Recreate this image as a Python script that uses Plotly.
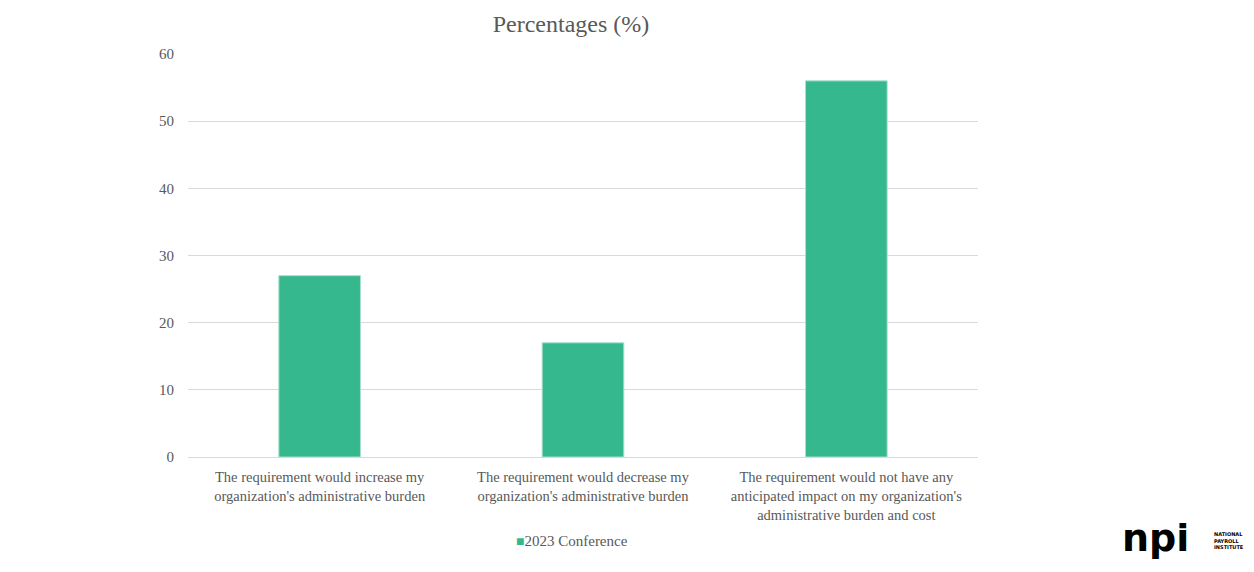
import plotly.graph_objects as go

categories = [
    "The requirement would increase my<br>organization's administrative burden",
    "The requirement would decrease my<br>organization's administrative burden",
    "The requirement would not have any<br>anticipated impact on my organization's<br>administrative burden and cost",
]
values = [27, 17, 56]
series_name = "2023 Conference"
title_text = "Percentages (%)"
y_ticks = [0, 10, 20, 30, 40, 50, 60]

font_family = "Liberation Serif, Times New Roman, serif"
gray = "#595959"
bar_color = "#35B88E"

L, R, T, B = 188, 276, 54, 115
W, H = 1254, 572
PW, PH = W - L - R, H - T - B


def px_x(x):
    return (x - L) / PW


def px_y(y):
    return (H - B - y) / PH


fig = go.Figure()
fig.add_trace(go.Bar(
    x=categories, y=values, name=series_name,
    marker=dict(color=bar_color, line=dict(color="#A8E0CC", width=1)),
    width=0.31, showlegend=False,
))

fig.update_layout(
    width=W, height=H,
    paper_bgcolor="white", plot_bgcolor="white",
    margin=dict(l=L, r=R, t=T, b=B),
    title=dict(text=title_text, x=571 / W, xanchor="center",
               y=1 - 24 / H, yanchor="middle",
               font=dict(family=font_family, size=24, color=gray)),
    font=dict(family=font_family, color=gray),
    showlegend=False,
    yaxis=dict(range=[0, 60], tickvals=y_ticks, showgrid=True, gridcolor="#D9D9D9",
               gridwidth=1, zeroline=True, zerolinecolor="#D9D9D9", zerolinewidth=1,
               ticks="", ticklabelstandoff=13,
               tickfont=dict(size=15, color=gray, family=font_family),
               showline=False),
    xaxis=dict(showgrid=False, showline=True, linecolor="#D9D9D9", ticks="",
               ticklabelstandoff=7,
               tickfont=dict(size=14.5, color=gray, family=font_family)),
    bargap=0.69,
)

# legend drawn as text (small square + label)
fig.add_annotation(text=f"<span style='color:{bar_color};font-size:14px'>■</span>{series_name}",
                   x=px_x(572), y=px_y(541), xref="paper", yref="paper", showarrow=False,
                   xanchor="center", yanchor="middle",
                   font=dict(family=font_family, size=15, color=gray))

# logo approximation
fig.add_annotation(text="<b>npi</b>", x=px_x(1155), y=px_y(538), xref="paper", yref="paper",
                   showarrow=False, font=dict(family="DejaVu Sans", size=38, color="black"),
                   xanchor="center", yanchor="middle")
fig.add_annotation(text="<b>NATIONAL<br>PAYROLL<br>INSTITUTE</b>", x=px_x(1212), y=px_y(540),
                   xref="paper", yref="paper", showarrow=False, xanchor="left", yanchor="middle",
                   align="left", font=dict(family="DejaVu Sans", size=5, color="black"))

fig.write_html("out.html")
